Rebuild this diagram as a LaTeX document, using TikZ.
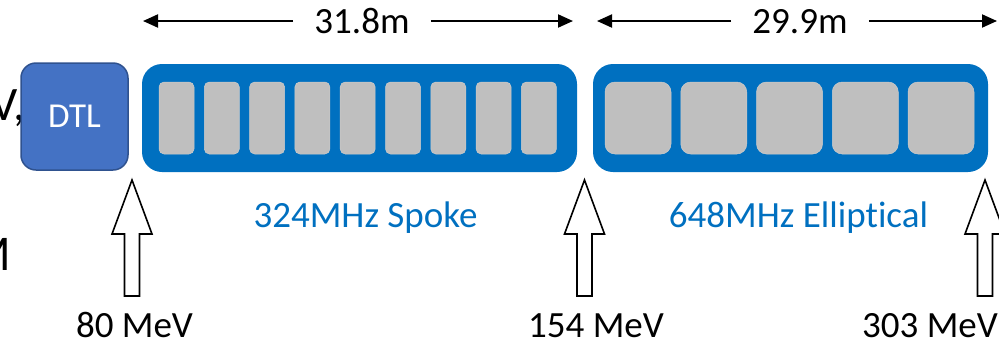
\documentclass[tikz,border=0pt]{standalone}
\usepackage{fontspec}
\setmainfont{Carlito}[Ligatures={NoCommon,NoRare}]
\usetikzlibrary{arrows.meta}
\definecolor{boxblue}{HTML}{0070C0}
\definecolor{dtlfill}{HTML}{4472C4}
\definecolor{dtlline}{HTML}{2F528F}
\definecolor{cellgray}{HTML}{BFBFBF}
\tikzset{
  big/.style={font=\fontsize{37}{44}\selectfont},
  cryo/.style={draw=none, fill=boxblue, rounded corners=20pt, minimum height=108pt, inner sep=0pt},
  cellA/.style={fill=cellgray, draw=cellgray!80!white, line width=0.5pt, rounded corners=5pt, minimum width=35pt, minimum height=72pt, inner sep=0pt},
  cellB/.style={fill=cellgray, draw=cellgray!80!white, line width=0.5pt, rounded corners=10pt, minimum width=66pt, minimum height=72pt, inner sep=0pt},
  dimlab/.style={big, inner xsep=21pt, inner ysep=0pt, anchor=base},
  dimarrow/.style={-{Triangle[length=15pt,width=13pt]}, line width=2pt},
  elabel/.style={big, anchor=base, inner sep=0pt},
  uparrow/.pic={\draw[line width=1.6pt, fill=white, line join=miter]
     (-7.5,0) -- (-7.5,-62) -- (-20,-62) -- (0,-116) -- (20,-62) -- (7.5,-62) -- (7.5,0) -- cycle;}
}
\begin{document}
\begin{tikzpicture}[x=1pt,y=-1pt]
\useasboundingbox (0,0) rectangle (999,341);
\clip (0,0) rectangle (999,341);
% cut-off text at left
\node[font=\fontsize{48}{56}\selectfont, anchor=base west, inner sep=0pt] (tv) at (-10,120) {V,};
\node[font=\fontsize{50}{58}\selectfont, anchor=base west, inner sep=0pt] (tm) at (-32,270) {M};
% DTL
\node[fill=dtlfill, draw=dtlline, line width=1.5pt, rounded corners=15pt, minimum width=107pt, minimum height=107pt, inner sep=0pt,
      text=white, font=\fontsize{35}{40}\selectfont] (dtl) at (74.5,116.5) {DTL};
% cryomodule boxes
\node[cryo, minimum width=435pt] (spoke) at (359.5,118) {};
\node[cryo, minimum width=395pt] (ellip) at (790.5,118) {};
\foreach \i in {0,...,8} {
  \node[cellA] (s\i) at ({176.5+45.3*\i},118) {};
}
\foreach \i in {0,...,4} {
  \node[cellB] (e\i) at ({638+75.75*\i},118) {};
}
% labels inside-below
\node[elabel, text=boxblue] (spokelab) at (365.5,227) {324MHz Spoke};
\node[elabel, text=boxblue] (elliplab) at (798.5,227) {648MHz Ellipt\kern0pt ical};
% dimension arrows
\coordinate (d1l) at (143,21);
\coordinate (d1r) at (573,21);
\coordinate (d2l) at (597,21);
\coordinate (d2r) at (997,21);
\node[dimlab] (d1) at (362,33) {31.8m};
\node[dimlab] (d2) at (800,33) {29.9m};
\draw[dimarrow] (d1l -| d1.west) -- (d1l);
\draw[dimarrow] (d1r -| d1.east) -- (d1r);
\draw[dimarrow] (d2l -| d2.west) -- (d2l);
\draw[dimarrow] (d2r -| d2.east) -- (d2r);
% injection arrows
\coordinate (a1) at (132,296);
\coordinate (a2) at (584.5,296);
\coordinate (a3) at (985,296);
\pic at (a1) {uparrow};
\pic at (a2) {uparrow};
\pic at (a3) {uparrow};
% energies
\node[elabel] (en1) at (134.5,337) {80 MeV};
\node[elabel] (en2) at (596,337) {154 MeV};
\node[elabel, anchor=base west] (en3) at (862,337) {303 MeV};
\end{tikzpicture}
\end{document}
